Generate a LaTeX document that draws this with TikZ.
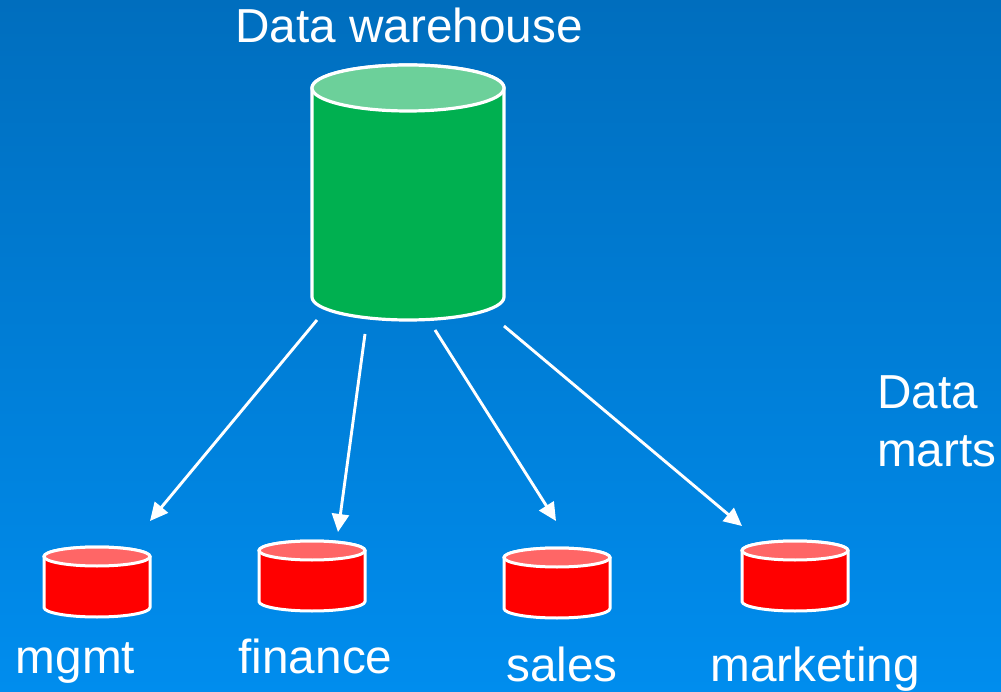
\documentclass[tikz,border=0pt]{standalone}
\usepackage{fontspec}
\setmainfont{Liberation Sans}
\usetikzlibrary{arrows.meta}
\definecolor{bgtop}{RGB}{0,110,190}
\definecolor{bgbot}{RGB}{0,141,238}
\definecolor{whgreen}{RGB}{0,176,80}
\definecolor{whtop}{RGB}{108,208,154}
\definecolor{mtred}{RGB}{255,0,0}
\definecolor{mttop}{RGB}{255,102,102}
\tikzset{
  x=1pt,y=-1pt,
  lbl/.style={text=white,font=\fontsize{47.7}{50}\selectfont,anchor=base,inner sep=0pt},
  link/.style={draw=white,line width=2.9pt,-{Triangle[length=18pt,width=17pt]}},
  anchorbox/.style={draw=none,fill=none,inner sep=0pt,outer sep=0pt},
}
% name, left, right, top, bottom, ry, body, cap, line width
\newcommand{\dbdrum}[9]{%
  \node[anchorbox,minimum width={(#3)-(#2)},minimum height={(#5)-(#4)}] (#1) at ({((#2)+(#3))/2},{((#4)+(#5))/2}) {};
  \draw[white,line width=#9,fill=#7,line join=round]
    ({#2},{(#4)+#6}) -- ({#2},{(#5)-#6})
    arc[start angle=180,end angle=360,x radius={((#3)-(#2))/2},y radius=-#6]
    -- ({#3},{(#4)+#6})
    arc[start angle=0,end angle=180,x radius={((#3)-(#2))/2},y radius=-#6] -- cycle;
  \draw[white,line width=#9,fill=#8]
    ({((#2)+(#3))/2},{(#4)+#6}) ellipse[x radius={((#3)-(#2))/2},y radius=#6];
}
\begin{document}
\begin{tikzpicture}
\useasboundingbox (0,0) rectangle (1001,692);
\shade[top color=bgtop,bottom color=bgbot] (0,0) rectangle (1001,692);

\dbdrum{dw}{312}{504}{65}{320}{23}{whgreen}{whtop}{3.2pt}
\dbdrum{mgmtdb}{44}{150}{547}{617}{9.5}{mtred}{mttop}{3pt}
\dbdrum{findb}{259}{365}{541}{611}{9.5}{mtred}{mttop}{3pt}
\dbdrum{salesdb}{504}{610}{548}{618}{9.5}{mtred}{mttop}{3pt}
\dbdrum{mktdb}{742}{848}{541}{611}{9.5}{mtred}{mttop}{3pt}

\node[lbl] (dwl) at (409,43) {Data warehouse};
\node[lbl] (mgmtl) at (75.5,673) {mgmt};
\node[lbl] (finl) at (315.5,673) {finance};
\node[lbl] (salesl) at (562,681) {sales};
\node[lbl] (mktl) at (815,681) {marketing};
\node[lbl,anchor=base west] (datal) at (877,408) {Data};
\node[lbl,anchor=base west] (martsl) at (877,466) {marts};

\coordinate (a1) at (317,320); \coordinate (b1) at (150,521);
\coordinate (a2) at (365,334); \coordinate (b2) at (338,532);
\coordinate (a3) at (435,330); \coordinate (b3) at (556,521);
\coordinate (a4) at (504,326); \coordinate (b4) at (742,526);
\draw[link] (a1) -- (b1);
\draw[link] (a2) -- (b2);
\draw[link] (a3) -- (b3);
\draw[link] (a4) -- (b4);
\end{tikzpicture}
\end{document}
